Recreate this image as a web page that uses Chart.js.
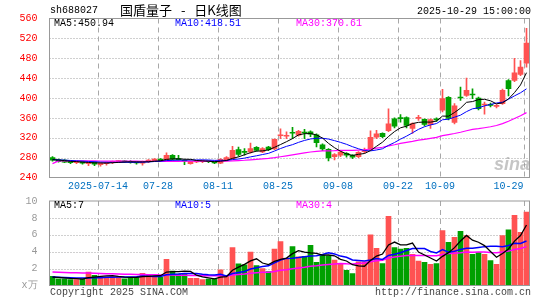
<!DOCTYPE html>
<html>
<head>
<meta charset="utf-8">
<script src="https://cdn.jsdelivr.net/npm/chart.js@4.4.0/dist/chart.umd.min.js"></script>
<style>
  html, body { margin: 0; padding: 0; background: #fff; }
  #wrap { position: relative; width: 545px; height: 300px; overflow: hidden; font-family: "Liberation Mono", monospace; font-size: 10px; }
  #wrap canvas { position: absolute; left: 0; }
  .t { position: absolute; white-space: pre; line-height: 10px; }
</style>
</head>
<body>
<div id="wrap">
  <canvas id="kChart" width="545" height="195" style="top:0"></canvas>
  <canvas id="volChart" width="545" height="110" style="top:190px"></canvas>

  <div class="t" style="left:50px;top:6px;color:#000">sh688027</div>
  <div class="t" style="left:120px;top:3px;font-family:'Noto Sans CJK SC';font-size:13px;line-height:13px;word-spacing:6px;color:#000">国盾量子 - 日K线图</div>
  <div class="t" style="left:417px;top:7px;color:#000">2025-10-29 15:00:00</div>

  <div class="t" style="left:54px;top:19px;color:#000">MA5:450.94</div>
  <div class="t" style="left:175px;top:19px;color:#0000ff">MA10:418.51</div>
  <div class="t" style="left:296px;top:19px;color:#ff00ff">MA30:370.61</div>

  <div class="t" style="left:494px;top:155px;font-family:'Liberation Sans';font-weight:bold;font-style:italic;font-size:18px;line-height:18px;color:rgba(150,150,150,0.55)">sina</div>

  <div class="t" style="left:54px;top:201px;color:#000">MA5:7</div>
  <div class="t" style="left:175px;top:201px;color:#0000ff">MA10:5</div>
  <div class="t" style="left:296px;top:201px;color:#ff00ff">MA30:4</div>

  <div class="t" style="left:50px;top:288px;color:#444">Copyright 2025 SINA.COM</div>
  <div class="t" style="right:14px;top:288px;color:#444">http://finance.sina.com.cn</div>
</div>

<script>
// trading days 2025-07-02 .. 2025-10-29
const dates = ['07-02','07-03','07-04','07-07','07-08','07-09','07-10','07-11','07-14','07-15',
  '07-16','07-17','07-18','07-21','07-22','07-23','07-24','07-25','07-28','07-29',
  '07-30','07-31','08-01','08-04','08-05','08-06','08-07','08-08','08-11','08-12',
  '08-13','08-14','08-15','08-18','08-19','08-20','08-21','08-22','08-25','08-26',
  '08-27','08-28','08-29','09-01','09-02','09-03','09-04','09-05','09-08','09-09',
  '09-10','09-11','09-12','09-15','09-16','09-17','09-18','09-19','09-22','09-23',
  '09-24','09-25','09-26','09-29','09-30','10-09','10-10','10-13','10-14','10-15',
  '10-16','10-17','10-20','10-21','10-22','10-23','10-24','10-27','10-28','10-29'];

const gridDates = ['07-14','07-28','08-11','08-25','09-08','09-22','10-09','10-29'];

const open = [280,276,275,273,270,272,268,271,266,268,
  270,272,273.5,272,271,269,272,274,277,275,
  284.7,277.5,274.7,268,271.5,272,273,271.3,268.7,274.7,
  278,296,292,291.3,300.7,291.3,301.3,297.3,324,323,
  331,325,331,332,326,306,296.7,282,284.7,288.7,
  284.7,282,292,296.7,321,328.7,334,358,359.5,360.7,
  338.7,359,357.3,346.7,358,375.3,401.3,350.7,402,405.3,
  407.5,400,386,387,383,388.7,435.3,435.3,447.3,470];
const high = [282,277,276,274,273,273,271,272,270,271,
  273,274,274,274,272,273,276,278,278,289.5,
  286,284.7,276,273.5,274,275,274,272,278,282,
  302.7,301.3,298,309.3,302,300,302.7,318,338,332,
  341,335,336.7,334,328,308,298,288,293,290,
  286,292,299.3,334,334.7,330,378,360,366.7,362,
  350,365,358,358,360,417.3,403,388.7,422,440,
  418.7,402,392,390,387,418,437,480,475.3,540];
const low = [273,271,270,268,268,267,264,264,263,265,
  268,270,270,269,267,265,270,272,272,274,
  275,274.7,266,267,270,270,270,268,268,273,
  277,282.7,284.7,289,293,290,294,296,318,318,
  318,323,318,322,301.3,294,273.3,275.3,282,281,
  278,280,289,295,318,320,332,340,351.3,340,
  328.7,355,344,338.7,353,372,356,348,395,403,
  398.7,376,367.3,382,380,387,404,433,445,462];
const close = [275,272,271,270,271.5,269,270,267,269,270,
  272.5,273.5,271.5,270.5,269.5,272,275,277,274,284.5,
  276.7,276,272.7,272.7,272.7,273,272,269.3,276.7,280,
  294.7,286.7,290.7,298,294.7,298,296,316.7,326,324,
  329,332.7,329.5,327.3,310,297.3,279.3,286,291.3,284.7,
  280.7,290.7,294,320.7,328,322,348,343.3,358.5,344.7,
  348.7,360,346.7,356.7,356,398.7,358.7,384,400,415.3,
  406,378.7,387,385,385,415.3,418.7,450.7,462,510.7];

const ma5 = [276,275,274,272.5,272,271,270.3,269.5,269.3,269,
  269.7,270.4,271.3,271.6,271.5,271.4,271.7,272.8,273.5,276.5,
  277.4,277.6,276.8,276.5,274.2,273.4,272.6,271.9,272.7,274.2,
  278.5,281.5,285.8,290,293,293.6,295.5,300.7,306.3,312.1,
  318.3,325.7,328.2,328.5,325.7,319.4,308.7,300,292.8,287.7,
  284.4,286.7,288.3,294.2,302.8,311.1,322.5,332.4,340,343.3,
  348.6,351,351.7,351.4,353.6,363.6,363.4,370.8,379.5,391.3,
  392.8,396.8,397.4,394.4,388.3,390.2,398.2,410.9,426.3,450.94];
const ma10 = [276,275.5,275,274.3,273.6,273,272.3,271.7,271.1,270.6,
  270.3,270.5,270.5,270.6,270.4,270.7,271.2,272.2,272.7,274.1,
  274.5,274.8,274.9,275.1,275.4,275.5,275.2,274.5,274.7,274.3,
  276.1,277.2,279,281.5,283.7,286.2,288.6,293.3,298.3,302.7,
  306.1,310.7,314.6,317.5,319,319,317.3,314.2,310.7,306.8,
  302,297.8,294.2,293.6,295.4,297.8,304.7,310.4,317.2,323.2,
  330,336.9,342.2,345.8,348.6,356.2,357.3,361.4,365.5,372.6,
  378.3,380.2,384.2,387,389.9,391.6,397.6,404.3,410.5,418.51];
const ma30 = [268,273.5,273.6,273.6,273.5,273.4,273.3,273.3,273.2,273.1,
  273,273,272.9,272.8,272.8,272.7,272.7,272.6,272.6,272.6,
  272.6,272.6,272.7,272.7,272.7,272.8,272.8,272.8,272.9,272.9,
  273.6,274.1,274.7,275.6,276.4,277.4,278.3,279.9,281.8,283.6,
  285.5,287.5,289.4,291.3,292.6,293.5,293.6,293.9,294.5,294.5,
  294.6,295.1,295.8,297.4,299.3,300.9,303.5,305.9,308.7,310.8,
  312.6,315.1,316.9,318.9,320.9,324.3,326.4,328.6,331.1,334.1,
  336.7,338.2,340.1,342.1,344.6,348.5,353.1,358.6,364.3,370.61];

// volume, unit: 10k lots
const volume = [1.1,0.8,0.8,0.7,0.7,0.8,1.6,1.2,1.05,1.0,
  1.05,1.05,0.8,0.95,0.95,1.45,1.3,1.1,1.0,3.1,
  1.7,1.35,1.35,0.85,0.85,0.7,0.75,0.8,1.85,1.15,
  4.5,2.55,2.45,3.95,2.35,2.0,1.65,4.3,5.2,3.1,
  4.6,3.4,3.45,4.75,2.75,3.6,3.5,3.0,2.6,1.8,
  1.4,2.8,2.8,6.0,4.4,2.6,8.2,4.5,4.3,4.4,
  3.7,2.9,2.75,2.5,2.6,6.5,5.1,5.7,6.4,5.9,
  3.7,3.9,3.7,2.95,2.5,5.9,6.6,8.3,6.3,8.7];
const volMa5 = [1.0,0.95,0.9,0.85,0.82,0.76,0.92,1.0,1.07,1.13,
  1.18,1.07,0.99,0.97,0.96,1.04,1.09,1.15,1.16,1.59,
  1.64,1.65,1.7,1.67,1.22,1.02,0.9,0.79,0.99,1.05,
  1.81,2.17,2.5,2.92,3.16,2.66,2.48,2.85,3.1,3.25,
  3.77,4.12,3.95,3.86,3.79,3.59,3.61,3.52,3.09,2.9,
  2.46,2.32,2.28,2.96,3.48,3.72,4.8,5.14,4.8,4.8,
  5.02,3.96,3.61,3.25,2.89,3.45,3.89,4.48,5.26,5.92,
  5.36,5.12,4.72,4.03,3.35,3.79,4.33,5.25,5.92,7.16];
const volMa10 = [1.0,0.98,0.95,0.92,0.9,0.88,0.9,0.92,0.93,0.98,
  0.97,1.0,1.0,1.02,1.05,1.11,1.08,1.07,1.07,1.28,
  1.34,1.37,1.43,1.42,1.41,1.33,1.28,1.25,1.33,1.14,
  1.42,1.54,1.65,1.96,2.1,2.24,2.33,2.68,3.01,3.21,
  3.22,3.3,3.4,3.48,3.52,3.68,3.87,3.74,3.48,3.35,
  3.03,2.97,2.9,3.03,3.19,3.09,3.56,3.71,3.88,4.14,
  4.37,4.38,4.38,4.03,3.85,4.24,3.93,4.05,4.26,4.41,
  4.41,4.51,4.6,4.65,4.64,4.58,4.73,4.99,4.98,5.26];
const volMa30 = [1.6,1.58,1.55,1.52,1.5,1.48,1.47,1.45,1.42,1.4,
  1.38,1.36,1.34,1.33,1.31,1.3,1.28,1.27,1.25,1.25,
  1.24,1.22,1.2,1.19,1.18,1.16,1.15,1.14,1.14,1.13,
  1.24,1.3,1.36,1.46,1.52,1.56,1.56,1.66,1.8,1.87,
  1.99,2.07,2.16,2.28,2.34,2.42,2.49,2.55,2.61,2.56,
  2.55,2.6,2.65,2.82,2.94,3.0,3.25,3.37,3.46,3.56,
  3.54,3.55,3.56,3.51,3.52,3.67,3.78,3.83,3.87,3.96,
  3.93,3.95,3.96,3.9,3.89,3.97,4.07,4.25,4.37,4.6];

const priceTicks = [240,280,320,360,400,440,480,520,560];
const volTicks = [0,2,4,6,8,10];

const RED = '#ff5252';
const GREEN = '#00a000';
const candleColor = close.map((c, i) => c >= open[i] ? RED : GREEN);
const monoFont = { family: 'Liberation Mono', size: 10 };

function lineSet(data, color, width) {
  return { type: 'line', data: data, borderColor: color, borderWidth: width,
    pointRadius: 0, tension: 0, fill: false, order: 0 };
}

// dotted horizontal grid, dashed vertical grid, grey frame
function panelGrid(hVals, withLabels) {
  return {
    id: 'panelGrid',
    beforeDatasetsDraw(chart) {
      const { ctx, chartArea: a, scales: { x, y } } = chart;
      ctx.save();
      ctx.lineWidth = 1;
      ctx.strokeStyle = '#a0a0a0';
      ctx.setLineDash([1, 2]);
      hVals.forEach(v => {
        const py = Math.round(y.getPixelForValue(v)) + 0.5;
        ctx.beginPath(); ctx.moveTo(a.left, py); ctx.lineTo(a.right, py); ctx.stroke();
      });
      ctx.strokeStyle = '#a8a8a8';
      ctx.setLineDash([5, 4]);
      gridDates.forEach(d => {
        const px = Math.floor(x.getPixelForValue(dates.indexOf(d))) - 1.5;
        ctx.beginPath(); ctx.moveTo(px, a.top); ctx.lineTo(px, a.bottom); ctx.stroke();
      });
      ctx.restore();
    },
    afterDraw(chart) {
      const { ctx, chartArea: a, scales: { x } } = chart;
      ctx.save();
      ctx.lineWidth = 1;
      ctx.strokeStyle = '#999';
      ctx.strokeRect(a.left, a.top, a.right - a.left, a.bottom - a.top);
      if (withLabels) {
        ctx.font = '10px "Liberation Mono"';
        ctx.fillStyle = '#0070c0';
        ctx.textAlign = 'center';
        ctx.textBaseline = 'middle';
        gridDates.forEach((d, k) => {
          const label = k === 0 ? '2025-' + d : d;
          const w = ctx.measureText(label).width;
          let px = Math.floor(x.getPixelForValue(dates.indexOf(d))) - 2;
          px = Math.min(px, a.right - w / 2 - 6);
          ctx.fillText(label, px, 186);
        });
      }
      ctx.restore();
    }
  };
}

new Chart(document.getElementById('kChart'), {
  type: 'bar',
  data: {
    labels: dates,
    datasets: [
      lineSet(ma5, '#000000', 1),
      lineSet(ma10, '#0000ff', 1),
      lineSet(ma30, '#ff00ff', 1.2),
      { data: open.map((o, i) => [o, close[i]]), backgroundColor: candleColor,
        barThickness: 5, grouped: false, minBarLength: 1, order: 1 },
      { data: low.map((l, i) => [l, high[i]]), backgroundColor: candleColor,
        barThickness: 1, grouped: false, order: 2 }
    ]
  },
  options: {
    responsive: false,
    animation: false,
    layout: { padding: { top: 18.5, right: 15.5, bottom: 17.5, left: 0 } },
    plugins: { legend: { display: false }, tooltip: { enabled: false } },
    scales: {
      x: { display: false, offset: true },
      y: {
        min: 240, max: 560,
        afterBuildTicks: s => { s.ticks = priceTicks.map(v => ({ value: v })); },
        afterFit: s => { s.width = 49.5; },
        ticks: { color: '#ff0000', font: monoFont, padding: 4 },
        grid: { display: false },
        border: { display: false }
      }
    }
  },
  plugins: [panelGrid([280, 320, 360, 400, 440, 480, 520], true)]
});

new Chart(document.getElementById('volChart'), {
  type: 'bar',
  data: {
    labels: dates,
    datasets: [
      lineSet(volMa5, '#000000', 1.3),
      lineSet(volMa10, '#0000ff', 1.5),
      lineSet(volMa30, '#ff00ff', 1.5),
      { data: volume, backgroundColor: candleColor, barThickness: 5, grouped: false, order: 1 }
    ]
  },
  options: {
    responsive: false,
    animation: false,
    layout: { padding: { top: 11, right: 15.5, bottom: 14.5, left: 0 } },
    plugins: { legend: { display: false }, tooltip: { enabled: false } },
    scales: {
      x: { display: false, offset: true },
      y: {
        min: 0, max: 10,
        afterBuildTicks: s => { s.ticks = volTicks.map(v => ({ value: v })); },
        afterFit: s => { s.width = 49.5; },
        ticks: { color: '#999999', font: monoFont, padding: 4,
          callback: v => v === 0 ? 'x万' : v },
        grid: { display: false },
        border: { display: false }
      }
    }
  },
  plugins: [panelGrid([2, 4, 6, 8], false)]
});
</script>
</body>
</html>
